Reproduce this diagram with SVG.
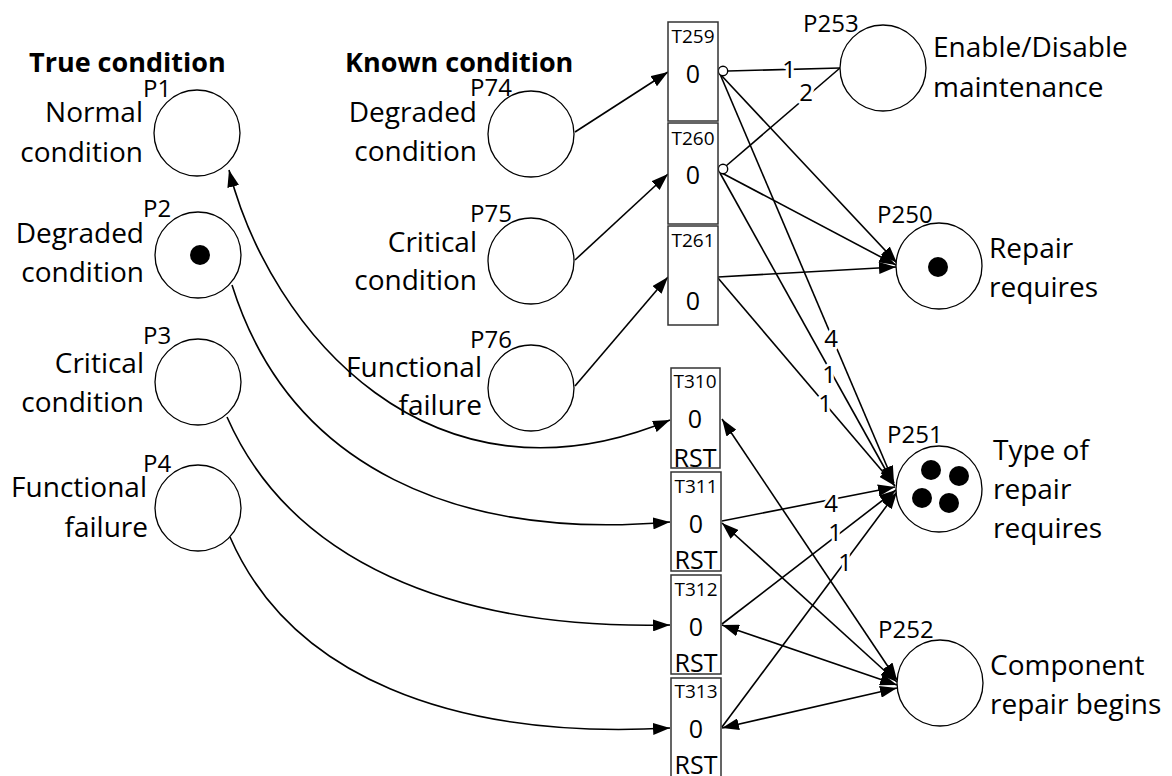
<svg xmlns="http://www.w3.org/2000/svg" width="1172" height="776" viewBox="0 0 1172 776">
<style>
text{font-family:"Open Sans","Liberation Sans",sans-serif;fill:#000}
.pl{fill:#fff;stroke:#000;stroke-width:1.3}
.tr{fill:#fff;stroke:#333;stroke-width:1.5}
.arc{fill:none;stroke:#000;stroke-width:1.6}
.tok{fill:#000}
.lbl{font-size:28px}
.end{text-anchor:end}
.pid{font-size:24px}
.tid{font-size:19px;text-anchor:middle}
.tv{font-size:25px;text-anchor:middle}
.hd{font-size:27px;font-weight:bold}
.w{font-size:24px;text-anchor:middle;stroke:#fff;stroke-width:6;paint-order:stroke;stroke-linejoin:round}
.inh{fill:#fff;stroke:#000;stroke-width:1.4}
</style>
<defs>
<marker id="ah" viewBox="0 0 17 12" refX="17" refY="6" markerWidth="17" markerHeight="12" markerUnits="userSpaceOnUse" orient="auto-start-reverse"><path d="M0,0 L17,6 L0,12 z" fill="#000"/></marker>
</defs>

<text class="hd" x="29" y="72">True condition</text>
<text class="hd" x="345" y="72">Known condition</text>

<g id="connectors">
  <path class="arc" d="M229,170 C270,330 430,520 670,420" marker-start="url(#ah)" marker-end="url(#ah)"/>
  <path class="arc" d="M232,285 C290,470 460,540 670,522" marker-end="url(#ah)"/>
  <path class="arc" d="M227,417 C290,560 450,630 670,625" marker-end="url(#ah)"/>
  <path class="arc" d="M230,537 C290,675 450,740 670,728" marker-end="url(#ah)"/>
  <line class="arc" x1="575" y1="132" x2="668" y2="72" marker-end="url(#ah)"/>
  <line class="arc" x1="575" y1="260" x2="668" y2="174" marker-end="url(#ah)"/>
  <line class="arc" x1="575" y1="386" x2="668" y2="277" marker-end="url(#ah)"/>
  <line class="arc" x1="728" y1="71" x2="840" y2="68"/>
  <line class="arc" x1="726" y1="166" x2="840" y2="68"/>
  <line class="arc" x1="720" y1="74" x2="897" y2="263" marker-end="url(#ah)"/>
  <line class="arc" x1="720" y1="172" x2="896" y2="265" marker-end="url(#ah)"/>
  <line class="arc" x1="718" y1="277" x2="896" y2="267" marker-end="url(#ah)"/>
  <line class="arc" x1="720" y1="74" x2="894" y2="483" marker-end="url(#ah)"/>
  <line class="arc" x1="720" y1="173" x2="894" y2="485" marker-end="url(#ah)"/>
  <line class="arc" x1="718" y1="278" x2="895" y2="486" marker-end="url(#ah)"/>
  <line class="arc" x1="722" y1="521" x2="895" y2="487" marker-end="url(#ah)"/>
  <line class="arc" x1="722" y1="624" x2="896" y2="490" marker-end="url(#ah)"/>
  <line class="arc" x1="722" y1="727" x2="897" y2="492" marker-end="url(#ah)"/>
  <line class="arc" x1="722" y1="419" x2="897" y2="680" marker-start="url(#ah)" marker-end="url(#ah)"/>
  <line class="arc" x1="722" y1="523" x2="897" y2="682" marker-start="url(#ah)" marker-end="url(#ah)"/>
  <line class="arc" x1="722" y1="625" x2="897" y2="685" marker-start="url(#ah)" marker-end="url(#ah)"/>
  <line class="arc" x1="722" y1="728" x2="897" y2="688" marker-start="url(#ah)" marker-end="url(#ah)"/>
  <circle class="inh" cx="723" cy="71" r="4.7"/>
  <circle class="inh" cx="723" cy="169" r="4.7"/>
  <text class="w" x="789" y="78">1</text>
  <text class="w" x="806" y="101">2</text>
  <text class="w" x="831" y="347">4</text>
  <text class="w" x="829" y="383">1</text>
  <text class="w" x="825" y="412">1</text>
  <text class="w" x="831" y="512">4</text>
  <text class="w" x="835" y="541">1</text>
  <text class="w" x="845" y="571">1</text>
</g>

<g id="P1">
  <circle class="pl" cx="197" cy="133" r="43"/>
  <text class="pid" x="143" y="97">P1</text>
  <text class="lbl end" x="143" y="122">Normal</text>
  <text class="lbl end" x="143" y="162">condition</text>
</g>
<g id="P2">
  <circle class="pl" cx="198" cy="255" r="43"/>
  <circle class="tok" cx="200" cy="255" r="10"/>
  <text class="pid" x="143" y="217">P2</text>
  <text class="lbl end" x="144" y="243">Degraded</text>
  <text class="lbl end" x="144" y="282">condition</text>
</g>
<g id="P3">
  <circle class="pl" cx="198" cy="382" r="43"/>
  <text class="pid" x="143" y="344">P3</text>
  <text class="lbl end" x="144" y="373">Critical</text>
  <text class="lbl end" x="144" y="412">condition</text>
</g>
<g id="P4">
  <circle class="pl" cx="198" cy="508" r="43"/>
  <text class="pid" x="143" y="472">P4</text>
  <text class="lbl end" x="147" y="497">Functional</text>
  <text class="lbl end" x="148" y="537">failure</text>
</g>

<g id="P74">
  <circle class="pl" cx="531" cy="134" r="43"/>
  <text class="pid" x="470" y="96">P74</text>
  <text class="lbl end" x="477" y="122">Degraded</text>
  <text class="lbl end" x="477" y="161">condition</text>
</g>
<g id="P75">
  <circle class="pl" cx="531" cy="261" r="43"/>
  <text class="pid" x="470" y="222">P75</text>
  <text class="lbl end" x="477" y="252">Critical</text>
  <text class="lbl end" x="477" y="290">condition</text>
</g>
<g id="P76">
  <circle class="pl" cx="531" cy="388" r="43"/>
  <text class="pid" x="470" y="348">P76</text>
  <text class="lbl end" x="482" y="377">Functional</text>
  <text class="lbl end" x="482" y="415">failure</text>
</g>

<g id="T259">
  <rect class="tr" x="668" y="22" width="50" height="99"/>
  <text class="tid" x="693" y="43">T259</text>
  <text class="tv" x="693" y="83">0</text>
</g>
<g id="T260">
  <rect class="tr" x="668" y="123" width="50" height="101"/>
  <text class="tid" x="693" y="145">T260</text>
  <text class="tv" x="693" y="184">0</text>
</g>
<g id="T261">
  <rect class="tr" x="668" y="226" width="50" height="99"/>
  <text class="tid" x="693" y="247">T261</text>
  <text class="tv" x="693" y="310">0</text>
</g>
<g id="T310">
  <rect class="tr" x="671" y="368" width="49" height="100"/>
  <text class="tid" x="695" y="388">T310</text>
  <text class="tv" x="695" y="428">0</text>
  <text class="tv" x="695" y="467">RST</text>
</g>
<g id="T311">
  <rect class="tr" x="671" y="472" width="50" height="99"/>
  <text class="tid" x="696" y="493">T311</text>
  <text class="tv" x="696" y="533">0</text>
  <text class="tv" x="696" y="569">RST</text>
</g>
<g id="T312">
  <rect class="tr" x="671" y="575" width="50" height="99"/>
  <text class="tid" x="696" y="596">T312</text>
  <text class="tv" x="696" y="636">0</text>
  <text class="tv" x="696" y="672">RST</text>
</g>
<g id="T313">
  <rect class="tr" x="671" y="678" width="50" height="100"/>
  <text class="tid" x="696" y="698">T313</text>
  <text class="tv" x="696" y="738">0</text>
  <text class="tv" x="696" y="774">RST</text>
</g>

<g id="P253">
  <circle class="pl" cx="883" cy="68" r="43"/>
  <text class="pid" x="803" y="32">P253</text>
  <text class="lbl" x="933" y="57">Enable/Disable</text>
  <text class="lbl" x="933" y="97">maintenance</text>
</g>
<g id="P250">
  <circle class="pl" cx="939" cy="266" r="43"/>
  <circle class="tok" cx="938" cy="267" r="10"/>
  <text class="pid" x="877" y="223">P250</text>
  <text class="lbl" x="989" y="258">Repair</text>
  <text class="lbl" x="989" y="297">requires</text>
</g>
<g id="P251">
  <circle class="pl" cx="939" cy="489" r="43"/>
  <circle class="tok" cx="931" cy="470" r="10"/>
  <circle class="tok" cx="959" cy="476" r="10"/>
  <circle class="tok" cx="922" cy="498" r="10"/>
  <circle class="tok" cx="949" cy="503" r="10"/>
  <text class="pid" x="887" y="443">P251</text>
  <text class="lbl" x="993" y="460">Type of</text>
  <text class="lbl" x="993" y="499">repair</text>
  <text class="lbl" x="993" y="538">requires</text>
</g>
<g id="P252">
  <circle class="pl" cx="940" cy="683" r="43"/>
  <text class="pid" x="878" y="638">P252</text>
  <text class="lbl" x="990" y="675">Component</text>
  <text class="lbl" x="990" y="714">repair begins</text>
</g>
</svg>
